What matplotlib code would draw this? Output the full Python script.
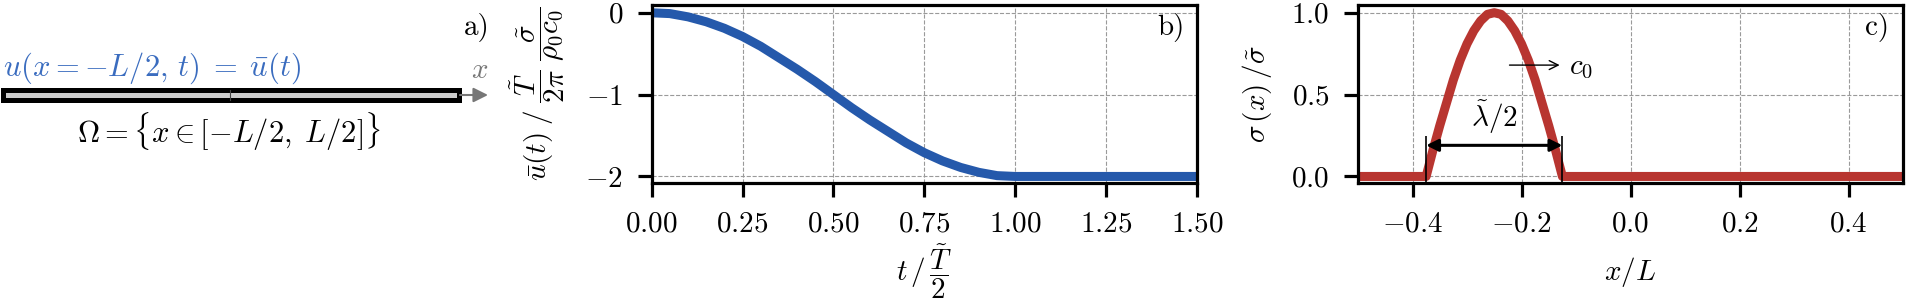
import numpy as np
import matplotlib
matplotlib.use("Agg")
import matplotlib.pyplot as plt
from matplotlib.patches import Rectangle

# --- Data ---
t_vals = [0.00, 0.05, 0.10, 0.15, 0.20, 0.25, 0.30, 0.35, 0.40, 0.45, 0.50,
          0.55, 0.60, 0.65, 0.70, 0.75, 0.80, 0.85, 0.90, 0.95, 1.00, 1.50]
u_vals = [0.00, -0.01, -0.05, -0.11, -0.19, -0.29, -0.41, -0.55, -0.69, -0.84, -1.00,
          -1.16, -1.31, -1.45, -1.59, -1.71, -1.81, -1.89, -1.95, -1.99, -2.00, -2.00]

x_vals = [-0.500, -0.375, -0.3625, -0.350, -0.3375, -0.325, -0.3125, -0.300, -0.2875,
          -0.275, -0.2625, -0.250, -0.2375, -0.225, -0.2125, -0.200, -0.1875,
          -0.175, -0.1625, -0.150, -0.1375, -0.125, 0.500]
s_vals = [0.00, 0.00, 0.16, 0.31, 0.45, 0.59, 0.71, 0.81, 0.89,
          0.95, 0.99, 1.00, 0.99, 0.95, 0.89, 0.81, 0.71,
          0.59, 0.45, 0.31, 0.16, 0.00, 0.00]

b_xticks = [0.00, 0.25, 0.50, 0.75, 1.00, 1.25, 1.50]
b_yticks = [0, -1, -2]
c_xticks = [-0.4, -0.2, 0.0, 0.2, 0.4]
c_yticks = [0.0, 0.5, 1.0]
pulse_edges = [-0.375, -0.125]

# --- Style ---
plt.rcParams['font.family'] = 'serif'
plt.rcParams['font.serif'] = ['cmr10']
plt.rcParams['mathtext.fontset'] = 'cm'
plt.rcParams['axes.formatter.use_mathtext'] = True
plt.rcParams['font.size'] = 21

BLUE = '#2559ab'
RED = '#b83530'
TEXT_BLUE = '#3a6cbf'
GRAY = '#777777'

W, H = 1907, 300
fig = plt.figure(figsize=(W / 100, H / 100), dpi=100)


def style_axes(ax):
    for sp in ax.spines.values():
        sp.set_linewidth(2.3)
    ax.tick_params(direction='out', length=10, width=2.3, pad=10.5, labelsize=21)
    ax.grid(True, color='#9a9a9a', linestyle='--', linewidth=0.8)
    ax.set_axisbelow(True)


# --- Panel a: sketch in pixel coordinates ---
ax_a = fig.add_axes([0, 0, 500 / W, 1])
ax_a.set_xlim(0, 500)
ax_a.set_ylim(H, 0)
ax_a.axis('off')
ax_a.add_patch(Rectangle((2.5, 89.5), 456, 10.5, facecolor='#cccccc',
                         edgecolor='black', linewidth=3.6))
ax_a.plot([230, 230], [90, 100], color='#444444', linewidth=0.8)
ax_a.annotate('', xy=(488, 95), xytext=(460, 95),
              arrowprops=dict(arrowstyle='-|>', color=GRAY, lw=1.5,
                              mutation_scale=22, shrinkA=0, shrinkB=0))
ax_a.text(480, 71, '$x$', color=GRAY, ha='center', va='center', fontsize=21)
ax_a.text(490, 27, 'a)', ha='right', va='center', fontsize=21)
ax_a.text(3, 68, r'$u(x = {-}L/2,\, t)\;=\;\bar{u}(t)$', color=TEXT_BLUE,
          ha='left', va='center', fontsize=22)
ax_a.text(229, 132, r'$\Omega = \{x \in [-L/2,\;L/2]\}$',
          ha='center', va='center', fontsize=22)

# --- Panel b ---
ax_b = fig.add_axes([651.7 / W, 1 - 183 / H, 545.3 / W, 178 / H])
style_axes(ax_b)
ax_b.plot(t_vals, u_vals, color=BLUE, linewidth=6.5, solid_capstyle='butt')
ax_b.set_xlim(0, 1.5)
ax_b.set_ylim(-2.08, 0.095)
ax_b.set_xticks(b_xticks)
ax_b.set_yticks(b_yticks)
ax_b.set_xlabel(r'$t\,/\,\dfrac{\tilde{T}}{2}$')
ax_b.xaxis.set_label_coords(0.5, -0.5)
ax_b.xaxis.label.set_va('center')
ax_b.set_ylabel(r'$\bar{u}(t)\;/\;\dfrac{\tilde{T}}{2\pi}\;\dfrac{\tilde{\sigma}}{\rho_0c_0}$')
ax_b.yaxis.set_label_coords(-0.21, 0.5)
ax_b.yaxis.label.set_va('center')
ax_b.text(0.978, 0.875, 'b)', transform=ax_b.transAxes, ha='right', va='center')

# --- Panel c ---
ax_c = fig.add_axes([1358 / W, 1 - 183 / H, 545 / W, 178 / H])
style_axes(ax_c)
ax_c.plot(x_vals, s_vals, color=RED, linewidth=6.5, solid_capstyle='butt')
ax_c.set_xlim(-0.5, 0.5)
ax_c.set_ylim(-0.04, 1.047)
ax_c.set_xticks(c_xticks)
ax_c.set_yticks(c_yticks)
ax_c.set_xlabel(r'$x/L$')
ax_c.xaxis.set_label_coords(0.5, -0.5)
ax_c.xaxis.label.set_va('center')
ax_c.set_ylabel(r'$\sigma\,(x)\,/\tilde{\sigma}$')
ax_c.yaxis.set_label_coords(-0.185, 0.5)
ax_c.yaxis.label.set_va('center')
ax_c.text(0.974, 0.875, 'c)', transform=ax_c.transAxes, ha='right', va='center')

ax_c.vlines(pulse_edges, -0.04, 0.25, color='black', linewidth=1.2)
ax_c.annotate('', xy=(pulse_edges[1], 0.19), xytext=(pulse_edges[0], 0.19),
              arrowprops=dict(arrowstyle='<|-|>', color='black', lw=2.2,
                              mutation_scale=18, shrinkA=0, shrinkB=0))
ax_c.text(-0.249, 0.36, r'$\tilde{\lambda}/2$', ha='center', va='center')
ax_c.annotate('', xy=(-0.130, 0.68), xytext=(-0.222, 0.68),
              arrowprops=dict(arrowstyle='->', color='black', lw=1.0,
                              mutation_scale=16, shrinkA=0, shrinkB=0))
ax_c.text(-0.112, 0.665, r'$c_0$', ha='left', va='center')

fig.savefig('out.png', dpi=100)
